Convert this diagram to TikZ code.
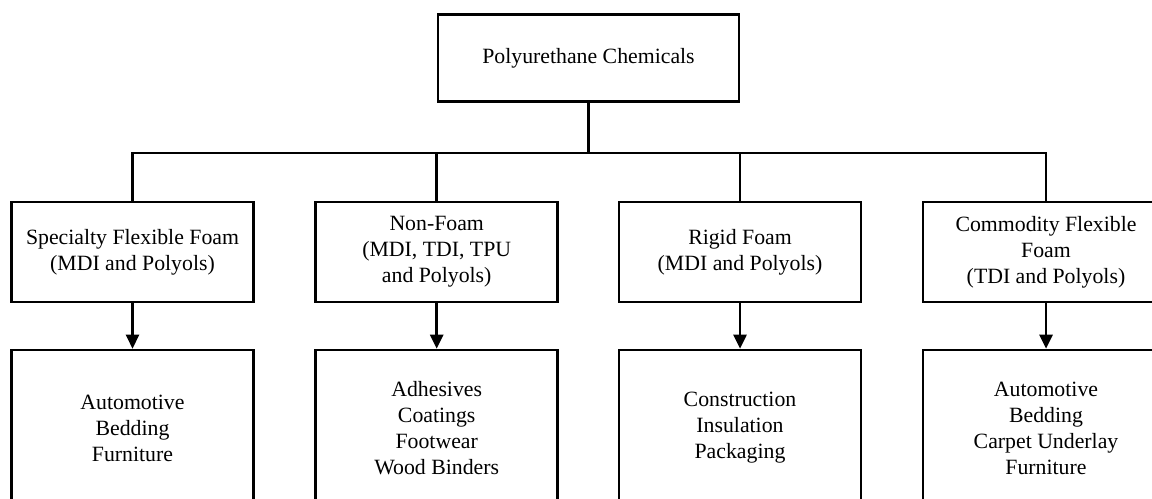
\documentclass[tikz,border=0pt]{standalone}
\usepackage{fontspec}
\setmainfont{Liberation Serif}
\usepackage{tikz}
\usetikzlibrary{arrows.meta}

\tikzset{
  box/.style={draw, line width=1.5pt, align=center, minimum width=4.84cm, minimum height=2cm, inner sep=2pt, font=\fontsize{12.4}{14.8}\selectfont},
  topbox/.style={box, minimum width=6.02cm, minimum height=1.74cm},
  usebox/.style={box, minimum height=3.12cm},
  link/.style={line width=1.5pt},
  arr/.style={link, -{Triangle[length=0.28cm, width=0.26cm]}}
}

\begin{document}
\begin{tikzpicture}[x=0.02cm, y=-0.02cm]
\clip (0,0) rectangle (1152,499);
\fill[white] (0,0) rectangle (1152,499);
% top
\node[topbox] (pu) at (588.5,58) {Polyurethane Chemicals};
% chemical groups
\node[box] (sff) at (132.5,252) {Specialty Flexible Foam\\(MDI and Polyols)};
\node[box] (nf) at (436.7,252) {Non-Foam\\(MDI, TDI, TPU\\and Polyols)};
\node[box] (rf) at (740,252) {Rigid Foam\\(MDI and Polyols)};
\node[box, minimum width=4.92cm] (cff) at (1046,252) {Commodity Flexible\\Foam\\(TDI and Polyols)};
% end uses
\node[usebox] (sffuse) at (132.5,428) {Automotive\\Bedding\\Furniture};
\node[usebox] (nfuse) at (436.7,428) {Adhesives\\Coatings\\Footwear\\Wood Binders};
\node[usebox] (rfuse) at (740,428) {Construction\\Insulation\\Packaging};
\node[usebox, minimum width=4.92cm] (cffuse) at (1046,428) {Automotive\\Bedding\\Carpet Underlay\\Furniture};
% bus
\coordinate (bus) at (588.5,153);
\draw[link] (pu.south) -- (bus);
\draw[link] (sff.north) |- (bus) -| (cff.north);
\draw[link] (nf.north) -- (nf.north |- bus);
\draw[link] (rf.north) -- (rf.north |- bus);
% arrows
\draw[arr] (sff) -- (sffuse);
\draw[arr] (nf) -- (nfuse);
\draw[arr] (rf) -- (rfuse);
\draw[arr] (cff) -- (cffuse);
\end{tikzpicture}
\end{document}
